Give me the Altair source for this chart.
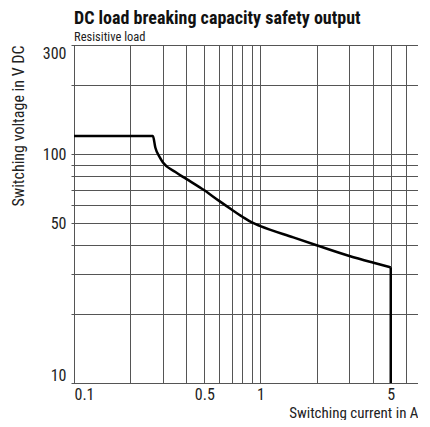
import altair as alt
import pandas as pd

# Curve: switching current (A) vs. switching voltage (V DC)
current = [0.1, 0.265, 0.273, 0.288, 0.3, 0.35, 0.4, 0.5, 0.6, 0.7, 0.8, 0.9, 1.0, 1.5, 2.0, 3.0, 4.0, 5.0]
voltage = [120, 120, 107, 97, 92, 83.5, 78, 69.5, 62.5, 57.3, 53.3, 50.3, 48.5, 43.3, 40, 35.9, 33.6, 32]
# vertical cut-off at the maximum current
cutoff_current = [5.0, 5.0]
cutoff_voltage = [32, 10]

x_grid = [0.1, 0.2, 0.3, 0.4, 0.5, 0.6, 0.7, 0.8, 0.9, 1, 2, 3, 4, 5, 6, 7]
x_labels = [0.1, 0.5, 1, 5]
y_grid = [10, 20, 30, 40, 50, 60, 70, 80, 90, 100, 200, 300]
y_labels = [10, 50, 100, 300]

FONT = "Roboto Condensed"

curve = pd.DataFrame({"current": current, "voltage": voltage})
cutoff = pd.DataFrame({"current": cutoff_current, "voltage": cutoff_voltage})

x_label_expr = "indexof(" + str(x_labels) + ", datum.value) >= 0 ? format(datum.value, '~g') : ''"
y_label_expr = "indexof(" + str(y_labels) + ", datum.value) >= 0 ? format(datum.value, '~g') : ''"

x_enc = alt.X("current:Q",
              scale=alt.Scale(type="log", domain=[0.1, 7], nice=False),
              axis=alt.Axis(values=x_grid, labelExpr=x_label_expr, title="Switching current in A",
                            titleAnchor="end", titleFontWeight="normal", titleFontSize=15,
                            titleFont=FONT, labelFont=FONT, labelFontSize=16, labelColor="#222",
                            titleColor="#222", labelFlush=True, labelPadding=3, titlePadding=3,
                            ticks=False, domain=False, gridColor="#555", gridOpacity=1,
                            labelOverlap=False))
y_enc = alt.Y("voltage:Q",
              scale=alt.Scale(type="log", domain=[10, 300], nice=False),
              axis=alt.Axis(values=y_grid, labelExpr=y_label_expr, title="Switching voltage in V DC",
                            titleAnchor="end", titleFontWeight="normal", titleFontSize=16,
                            titleFont=FONT, labelFont=FONT, labelFontSize=16, labelColor="#222",
                            titleColor="#222", labelFlush=True, labelPadding=5, titlePadding=16,
                            tickSize=3, tickColor="#555", domain=False, gridColor="#555",
                            gridOpacity=1, labelOverlap=False))

line = alt.Chart(curve).mark_line(color="black", strokeWidth=2.5, interpolate="monotone", clip=True).encode(
    x=x_enc, y=y_enc)
drop = alt.Chart(cutoff).mark_line(color="black", strokeWidth=2.5, clip=True).encode(
    x="current:Q", y="voltage:Q")

chart = alt.layer(line, drop).properties(
    width=344,
    height=338,
    title=alt.TitleParams(
        "DC load breaking capacity safety output",
        subtitle="Resisitive load",
        anchor="start", frame="group", font=FONT, fontSize=18, fontWeight="bold",
        color="#111", subtitleFont=FONT, subtitleFontSize=12.5, subtitleColor="#222",
        subtitlePadding=3, offset=1,
    ),
    padding={"left": 2, "top": 2, "right": 0, "bottom": 0},
).configure_view(stroke="black", strokeWidth=1)

chart.save("out.html", embed_options={"renderer": "svg", "actions": False})
